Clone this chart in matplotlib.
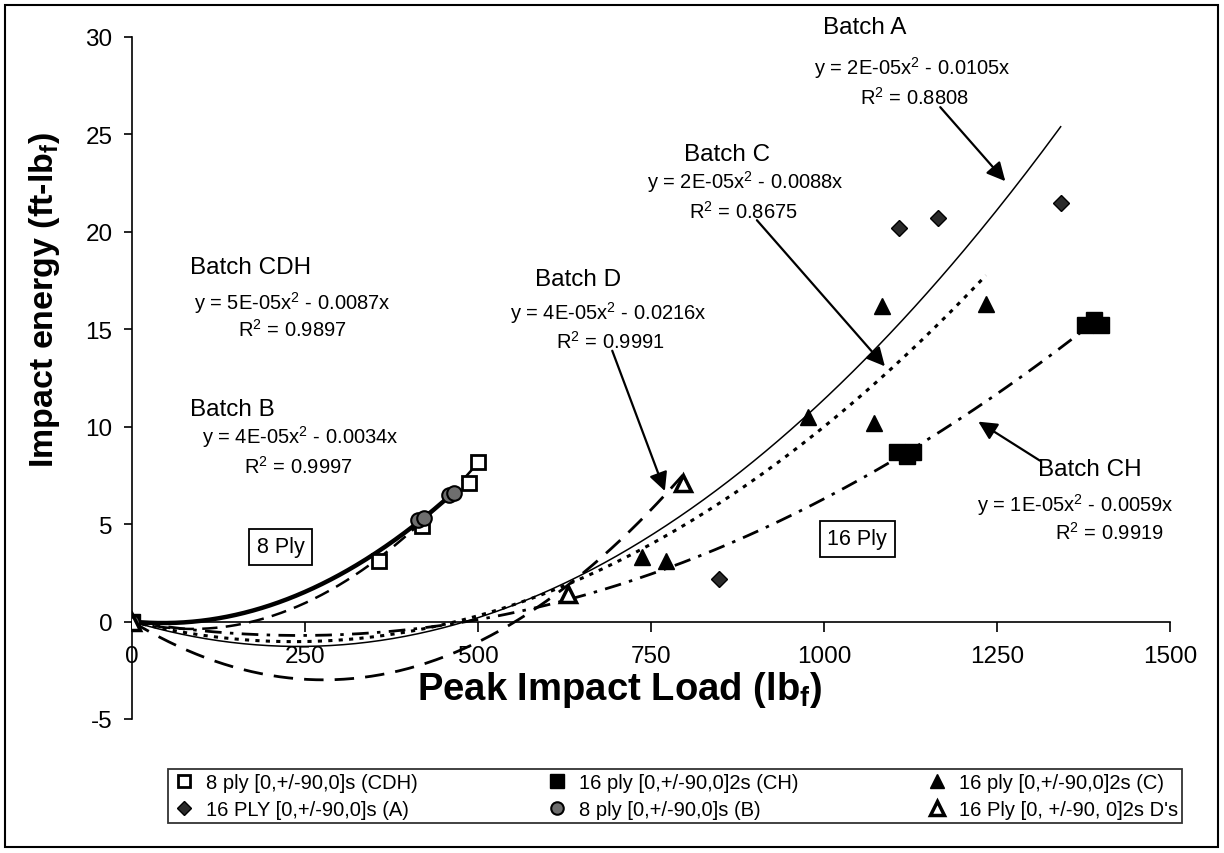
import numpy as np
import matplotlib
matplotlib.use("Agg")
import matplotlib.pyplot as plt
from matplotlib.lines import Line2D
from matplotlib.patches import Rectangle

plt.rcParams['font.family'] = ['Liberation Sans', 'DejaVu Sans']
plt.rcParams['mathtext.fontset'] = 'custom'
plt.rcParams['mathtext.rm'] = 'Liberation Sans'
plt.rcParams['mathtext.it'] = 'Liberation Sans:italic'
plt.rcParams['mathtext.bf'] = 'Liberation Sans:bold'
plt.rcParams['mathtext.default'] = 'regular'
plt.rcParams['lines.scale_dashes'] = False
plt.rcParams['axes.unicode_minus'] = False

# data (peak load lbf, impact energy ft-lbf)
cdh_x = [0, 357, 419, 487, 500]
cdh_y = [0, 3.1, 4.9, 7.1, 8.2]
ch_x = [0, 1105, 1120, 1128, 1377, 1390, 1400]
ch_y = [0, 8.7, 8.5, 8.7, 15.2, 15.5, 15.2]
c_x = [0, 737, 772, 977, 1072, 1084, 1234]
c_y = [0, 3.3, 3.1, 10.5, 10.2, 16.2, 16.3]
a_x = [0, 848, 1108, 1165, 1342]
a_y = [0, 2.2, 20.2, 20.7, 21.5]
b_x = [0, 413, 422, 458, 466]
b_y = [0, 5.2, 5.3, 6.5, 6.6]
d_x = [0, 630, 796]
d_y = [0, 1.4, 7.1]

# quadratic trend lines y = a*x^2 - b*x (zero intercept)
# order: A, C, CH, D, CDH, B
trend_a = [2.2e-5, 1.88e-5, 1.22e-5, 3.9e-5, 5e-5, 3.8e-5]
trend_b = [0.0106, 0.0088, 0.0059, 0.0216, 0.0087, 0.0034]
trend_xmax = [max(a_x), max(c_x), max(ch_x), max(d_x), max(cdh_x), max(b_x)]

W, H = 1224, 854
fig = plt.figure(figsize=(W / 100, H / 100), dpi=100)
ax = fig.add_axes([132 / W, 1 - 720 / H, (1170 - 132) / W, (720 - 38) / H])

# trend line styles: A solid, C dotted, CH dash-dot, D dashed, CDH dashed, B thick
styles = [
    dict(lw=1.1, ls='-'),
    dict(lw=2.2, ls=(0, (3, 4.5))),
    dict(lw=2.0, ls=(0, (12, 6, 2.5, 6))),
    dict(lw=2.0, ls=(0, (14, 8))),
    dict(lw=1.8, ls=(0, (11, 6))),
    dict(lw=3.2, ls='-'),
]
for a, b, xm, st in zip(trend_a, trend_b, trend_xmax, styles):
    xs = np.linspace(0, xm, 300)
    ax.plot(xs, a * xs ** 2 - b * xs, color='black', zorder=2, **st)

m_cdh = dict(marker='s', ms=10, mfc='white', mec='black', mew=2)
m_ch = dict(marker='s', ms=11, mfc='black', mec='black')
m_c = dict(marker='^', ms=12, mfc='black', mec='black')
m_a = dict(marker='D', ms=8.5, mfc='#2a2a2a', mec='black')
m_b = dict(marker='o', ms=10.5, mfc='#6e6e6e', mec='black', mew=1.5)
m_d = dict(marker='^', ms=12, mfc='white', mec='black', mew=2.5)

ax.plot(cdh_x, cdh_y, ls='none', zorder=4, **m_cdh)
ax.plot(ch_x, ch_y, ls='none', zorder=4, **m_ch)
ax.plot(c_x, c_y, ls='none', zorder=4, **m_c)
ax.plot(a_x, a_y, ls='none', zorder=4, **m_a)
ax.plot(b_x, b_y, ls='none', zorder=4, **m_b)
ax.plot(d_x, d_y, ls='none', zorder=4, **m_d)

ax.set_xlim(0, 1500)
ax.set_ylim(-5, 30)
ax.set_xticks(np.arange(0, 1501, 250))
ax.set_yticks(np.arange(-5, 31, 5))
ax.spines['top'].set_visible(False)
ax.spines['right'].set_visible(False)
ax.spines['bottom'].set_position(('data', 0))
ax.spines['left'].set_linewidth(1.2)
ax.spines['bottom'].set_linewidth(1.2)
ax.tick_params(axis='x', direction='out', length=7, width=1.2, labelsize=17.5, pad=10)
ax.tick_params(axis='y', direction='out', length=6, width=1.2, labelsize=17.5, pad=8)

ax.set_xlabel(r'Peak Impact Load (lb$_\mathbf{f}$)', fontsize=27.5, fontweight='bold')
ax.xaxis.set_label_coords(0.47, 0.044)
ax.xaxis.label.set_va('center')
ax.set_ylabel(r'Impact energy (ft-lb$_\mathbf{f}$)', fontsize=24.5, fontweight='bold')
ax.yaxis.set_label_coords(-0.084, 0.616)
ax.yaxis.label.set_va('center')

NAME = 17.5
EQ = 14.5

def batch_text(x, y, name, eq_x, eq_y, eq, r2_x, r2_y, r2):
    ax.text(x, y, name, fontsize=NAME, ha='center', va='center', clip_on=False)
    ax.text(eq_x, eq_y, eq, fontsize=EQ, ha='center', va='center')
    ax.text(r2_x, r2_y, r2, fontsize=EQ, ha='center', va='center')

batch_text(1059, 30.5, 'Batch A', 1127, 28.45, 'y = 2E-05x$^2$ - 0.0105x',
           1131, 26.95, 'R$^2$ = 0.8808')
batch_text(860, 24.0, 'Batch C', 886, 22.6, 'y = 2E-05x$^2$ - 0.0088x',
           883, 21.1, 'R$^2$ = 0.8675')
batch_text(645, 17.6, 'Batch D', 688, 15.9, 'y = 4E-05x$^2$ - 0.0216x',
           691, 14.4, 'R$^2$ = 0.9991')
batch_text(171, 18.2, 'Batch CDH', 232, 16.4, 'y = 5E-05x$^2$ - 0.0087x',
           232, 15.0, 'R$^2$ = 0.9897')
batch_text(145, 10.9, 'Batch B', 243, 9.5, 'y = 4E-05x$^2$ - 0.0034x',
           240, 8.0, 'R$^2$ = 0.9997')
batch_text(1384, 7.85, 'Batch CH', 1363, 6.05, 'y = 1E-05x$^2$ - 0.0059x',
           1413, 4.6, 'R$^2$ = 0.9919')

box = dict(boxstyle='square,pad=0.35', fc='white', ec='black', lw=1.3)
ax.text(215, 3.85, '8 Ply', fontsize=15.5, ha='center', va='center', bbox=box)
ax.text(1048, 4.26, '16 Ply', fontsize=15.5, ha='center', va='center', bbox=box)

arrow = dict(arrowstyle='-|>', lw=1.6, color='black', mutation_scale=28,
             shrinkA=0, shrinkB=0)
ax.annotate('', xy=(1262, 22.6), xytext=(1168, 26.4), arrowprops=arrow)
ax.annotate('', xy=(1088, 13.1), xytext=(903, 20.6), arrowprops=arrow)
ax.annotate('', xy=(770, 6.7), xytext=(694, 13.9), arrowprops=arrow)
ax.annotate('', xy=(1223, 10.26), xytext=(1312, 8.26), arrowprops=arrow)

leg_ms = dict(ls='none')
handles = [
    Line2D([], [], **{**m_cdh, 'ms': 8.5}, **leg_ms),
    Line2D([], [], **{**m_a, 'ms': 7.5}, **leg_ms),
    Line2D([], [], **{**m_ch, 'ms': 9.5}, **leg_ms),
    Line2D([], [], **{**m_b, 'ms': 9}, **leg_ms),
    Line2D([], [], **{**m_c, 'ms': 10.5}, **leg_ms),
    Line2D([], [], **{**m_d, 'ms': 10.5}, **leg_ms),
]
labels = [
    '8 ply [0,+/-90,0]s (CDH)',
    '16 PLY [0,+/-90,0]s (A)',
    '16 ply [0,+/-90,0]2s (CH)',
    '8 ply [0,+/-90,0]s (B)',
    '16 ply [0,+/-90,0]2s (C)',
    '16 Ply [0, +/-90, 0]2s D\'s',
]
leg = fig.legend(handles, labels, ncol=3, loc='center',
                 bbox_to_anchor=(675 / W, 1 - 797 / H), fontsize=14.5,
                 frameon=True, fancybox=False, edgecolor='black',
                 columnspacing=6.3, handletextpad=0.5, borderpad=0.2,
                 labelspacing=0.4, handlelength=1.2, borderaxespad=0)
leg.get_frame().set_linewidth(1.3)

fig.patches.append(Rectangle((5 / W, 6 / H), 1213 / W, 842 / H, transform=fig.transFigure,
                             fill=False, lw=1.5, ec='black'))

fig.savefig('out.png', dpi=100)
